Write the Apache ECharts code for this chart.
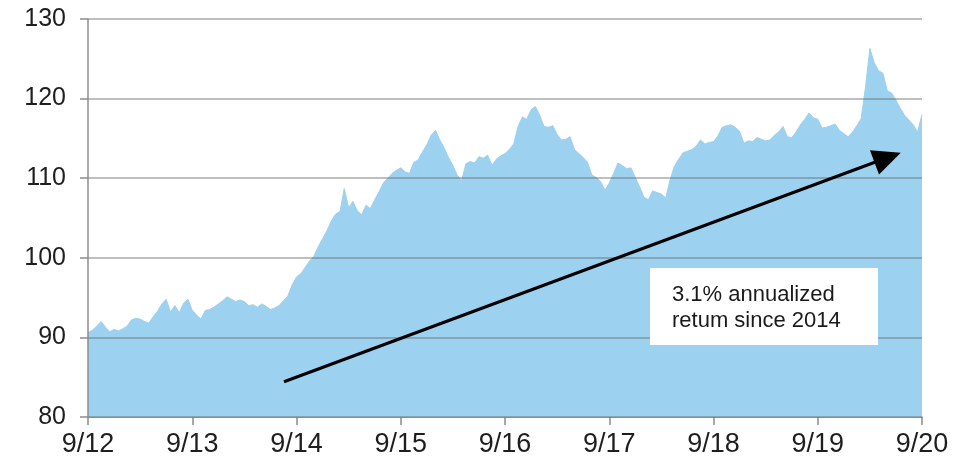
<!DOCTYPE html>
<html>
<head>
<meta charset="utf-8">
<script src="https://cdn.jsdelivr.net/npm/echarts@6/dist/echarts.min.js"></script>
<style>html,body{margin:0;padding:0;background:#fff;}#c{width:968px;height:462px;}</style>
</head>
<body>
<div id="c"></div>
<script>
// Half-monthly index values, Sep 2012 .. Sep 2020
const stepsPerYear = 24;
const tickLabels = ['9/12','9/13','9/14','9/15','9/16','9/17','9/18','9/19','9/20'];
const values = [
 90.6,90.9,91.4,92.0,91.3,90.7,91.0,90.8,91.1,91.4,92.2,92.4,92.3,92.0,91.8,92.6,93.3,94.2,94.8,93.2,94.0,93.1,94.3,94.8,
 93.4,92.8,92.3,93.4,93.5,93.8,94.2,94.6,95.1,94.8,94.5,94.7,94.5,94.0,94.1,93.8,94.2,93.9,93.5,93.7,94.0,94.6,95.2,96.6,
 97.6,98.0,98.8,99.6,100.2,101.4,102.4,103.4,104.6,105.5,105.8,108.7,106.3,107.1,105.9,105.4,106.6,106.2,107.3,108.3,109.4,110.0,110.6,111.0,
 111.3,110.8,110.6,112.0,112.3,113.3,114.2,115.4,116.0,114.8,113.8,112.6,111.6,110.4,109.7,111.8,112.1,111.9,112.7,112.5,112.9,111.6,112.4,112.8,
 113.1,113.6,114.3,116.5,117.7,117.4,118.6,119.0,117.9,116.5,116.4,116.6,115.5,114.8,114.9,115.2,113.6,113.1,112.6,112.0,110.4,110.1,109.6,108.5,
 109.4,110.6,111.9,111.6,111.2,111.3,110.1,108.9,107.6,107.3,108.4,108.2,108.0,107.5,109.8,111.5,112.4,113.2,113.4,113.6,114.0,114.8,114.3,114.5,
 114.6,115.3,116.4,116.6,116.7,116.4,115.9,114.4,114.7,114.6,115.1,114.9,114.7,114.8,115.4,115.8,116.5,115.2,115.1,115.8,116.7,117.4,118.2,117.6,
 117.4,116.3,116.4,116.6,116.8,116.0,115.6,115.2,115.8,116.6,117.5,121.5,126.3,124.5,123.5,123.2,121.0,120.7,119.8,118.8,117.9,117.3,116.7,115.8,
 118.0
];
const yTicks = [80, 90, 100, 110, 120, 130];
// Trend arrow (years since 9/12, index level)
const arrowStart = [1.88, 84.43];
const arrowEnd = [7.67, 112.6];
const noteLines = ['3.1% annualized', 'retum since 2014'];

const seriesData = values.map((v, i) => [i / stepsPerYear, v]);

const chart = echarts.init(document.getElementById('c'), null, {renderer: 'canvas'});
const fontFam = "'Liberation Sans', Arial, sans-serif";
chart.setOption({
  animation: false,
  backgroundColor: '#ffffff',
  grid: {left: 88, right: 46, top: 19, bottom: 45, containLabel: false},
  xAxis: {
    type: 'value', min: 0, max: tickLabels.length - 1, interval: 1,
    axisLine: {show: true, onZero: false, lineStyle: {color: '#8c8c8c', width: 1.5}},
    axisTick: {show: true, length: 8, lineStyle: {color: '#8c8c8c', width: 1.5}},
    axisLabel: {margin: 14, color: '#1e1e1e', fontSize: 27, fontFamily: fontFam,
      formatter: v => tickLabels[Math.round(v)]},
    splitLine: {show: false}
  },
  yAxis: {
    type: 'value', min: yTicks[0], max: yTicks[yTicks.length - 1], interval: 10,
    z: 5,
    axisLine: {show: true, lineStyle: {color: '#8c8c8c', width: 1.5}},
    axisTick: {show: true, length: 8, lineStyle: {color: '#8c8c8c', width: 1.5}},
    axisLabel: {margin: 22, color: '#1e1e1e', fontSize: 25, fontFamily: fontFam},
    splitLine: {show: true, lineStyle: {color: 'rgba(100,100,100,0.55)', width: 1.5}}
  },
  series: [{
    type: 'line',
    data: seriesData,
    showSymbol: false,
    symbol: 'none',
    lineStyle: {width: 1, color: '#9dd1f0'},
    areaStyle: {color: '#9dd1f0', opacity: 1},
    z: 2,
    markLine: {
      silent: true,
      symbol: ['none', 'triangle'],
      symbolSize: [26, 28],
      label: {show: false},
      lineStyle: {color: '#000', width: 3, type: 'solid'},
      itemStyle: {color: '#000'},
      data: [[{coord: arrowStart}, {coord: arrowEnd}]]
    }
  }],
  graphic: [
    {type: 'rect', x: 650, y: 268, z: 20, shape: {x: 0, y: 0, width: 228, height: 77},
      style: {fill: '#ffffff'}},
    {type: 'text', x: 672, y: 282, z: 21, style: {text: noteLines.join('\n'), fill: '#1a1a1a',
      font: '22px ' + fontFam, lineHeight: 26}}
  ]
});
</script>
</body>
</html>
